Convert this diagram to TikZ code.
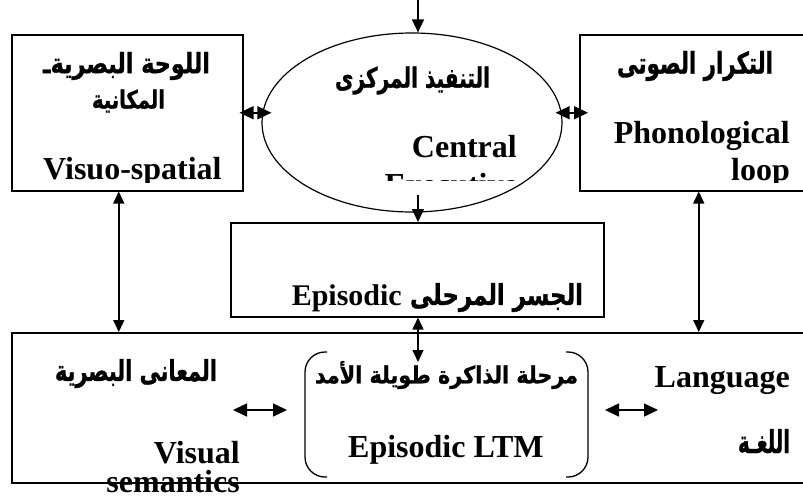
\documentclass[tikz,border=0pt]{standalone}
\usepackage{fontspec}
\usepackage{graphicx}
\setmainfont{Liberation Serif}
\newfontfamily\arabicfont[Script=Arabic, BoldFeatures={FakeBold=1.2}]{DejaVu Sans}
\TeXXeTstate=1
\XeTeXuseglyphmetrics=1
\usetikzlibrary{arrows.meta,shapes.geometric}
\newcommand\artext[3]{\resizebox*{#1}{#2}{\arabicfont\bfseries #3}}
\tikzset{
  boxshape/.style={draw, line width=1.5pt, rectangle, anchor=north west, inner sep=0pt},
  entext/.style={inner sep=0pt, font=\bfseries\fontsize{32}{38}\selectfont},
  artxt/.style={inner sep=0pt, anchor=center},
  arr/.style={line width=1.5pt, -{Triangle[length=13pt,width=12pt]}},
  darr/.style={line width=1.5pt, {Triangle[length=12pt,width=11pt]}-{Triangle[length=12pt,width=11pt]}},
  sdarr/.style={line width=1.5pt, {Triangle[length=14pt,width=13pt]}-{Triangle[length=14pt,width=13pt]}},
  bracketline/.style={line width=1.3pt, rounded corners=20pt}
}
\begin{document}
\begin{tikzpicture}[x=1pt,y=-1pt]
\useasboundingbox (0,0) rectangle (803,498);
\begin{scope}
\clip (0,0) rectangle (803,498);
% shapes
\node[boxshape, minimum width=231pt, minimum height=156pt] (vs) at (11,34) {};
\node[boxshape, minimum width=240pt, minimum height=156pt] (pl) at (579,34) {};
\node[draw, ellipse, line width=1.2pt, minimum width=300pt, minimum height=179pt, inner sep=0pt] (ce) at (412,122.5) {};
\node[boxshape, minimum width=373pt, minimum height=94pt] (buf) at (230,222) {};
\node[boxshape, minimum width=810pt, minimum height=150pt] (bot) at (11,332) {};
% LTM brackets
\draw[bracketline] (327,352) -- (305,352) -- (305,477) -- (327,477);
\draw[bracketline] (566,352) -- (588,352) -- (588,477) -- (566,477);
% texts: visuo-spatial
\node[artxt] (vsar1) at (126.5,66) {\artext{167pt}{28pt}{ـ\beginR اللوحة البصرية\endR}};
\node[artxt] (vsar2) at (128.5,101) {\artext{73pt}{23pt}{\beginR المكانية\endR}};
\begin{scope}
\clip (11,34) rectangle (242,182);
\node[entext, anchor=base west] (vsen) at (43,179) {Visuo-spatial};
\end{scope}
% central executive
\node[artxt] (cear) at (412.5,80.5) {\artext{155pt}{28pt}{\beginR التنفيذ المركزى\endR}};
\node[entext, anchor=base east] (ceen1) at (517,157) {Central};
\begin{scope}
\clip (262,33) rectangle (562,180);
\node[entext, anchor=base east] (ceen2) at (518,195) {Executive};
\end{scope}
% phonological loop
\node[artxt] (plar) at (695,66) {\artext{156pt}{30pt}{\beginR التكرار الصوتى\endR}};
\node[entext, anchor=base east] (plen1) at (790,143) {Phonological};
\begin{scope}
\clip (579,34) rectangle (803,182);
\node[entext, anchor=base east] (plen2) at (790,180) {loop};
\end{scope}
% episodic buffer
\node[entext, anchor=base east, font=\bfseries\fontsize{30}{36}\selectfont] (bufen) at (402,305) {Episodic};
\node[artxt] (bufar) at (496.5,297.5) {\artext{173pt}{29pt}{\beginR الجسر المرحلى\endR}};
% bottom box texts
\node[artxt] (vsemar) at (136,373.5) {\artext{162pt}{29pt}{\beginR المعانى البصرية\endR}};
\node[entext, anchor=base east] (vsemen1) at (240,463) {Visual};
\node[entext, anchor=base east] (vsemen2) at (240,492) {semantics};
\node[artxt] (ltmar) at (446.5,375) {\artext{263pt}{28pt}{\beginR مرحلة الذاكرة طويلة الأمد\endR}};
\node[entext, anchor=base west] (ltmen) at (348,457) {Episodic LTM};
\node[entext, anchor=base east] (langen) at (790,387) {Language};
\node[artxt] (langar) at (764,441) {\artext{52pt}{24pt}{\beginR اللغـة\endR}};
% connectors
\coordinate (top) at (418,0);
\coordinate (cestart) at (418,195);
\coordinate (ltmtop) at (418,362);
\coordinate (la) at (233,410);
\coordinate (lb) at (287,410);
\coordinate (ra) at (605,410);
\coordinate (rb) at (658,410);
\draw[arr] (top) -- (ce.north -| top);
\draw[arr] (cestart) -- (buf.north -| top);
\draw[darr] (buf.south -| top) -- (ltmtop);
\draw[sdarr] ([xshift=-4pt]vs.east) -- ([xshift=10pt]ce.west |- vs.east);
\draw[sdarr] ([xshift=-7pt]ce.east |- pl.west) -- ([xshift=9pt]pl.west);
\draw[darr] ([xshift=-8.5pt]vs.south) -- ([xshift=-8.5pt]vs.south |- bot.north);
\draw[darr] ([xshift=-1pt]pl.south) -- ([xshift=-1pt]pl.south |- bot.north);
\draw[sdarr] (la) -- (lb);
\draw[sdarr] (ra) -- (rb);
\end{scope}
\end{tikzpicture}
\end{document}
